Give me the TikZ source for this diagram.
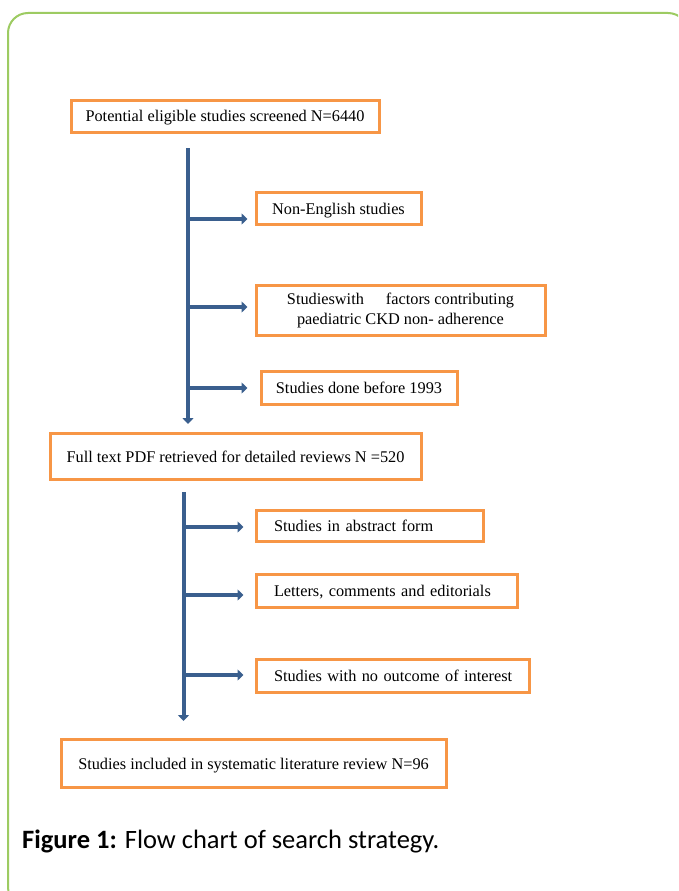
\documentclass[tikz,border=0pt]{standalone}
\usepackage{fontspec}
\setmainfont{Liberation Serif}
\newfontfamily\capfont{Carlito}
\usetikzlibrary{arrows.meta}
\definecolor{boxorange}{HTML}{F79646}
\definecolor{flowblue}{HTML}{3A5F8E}
\definecolor{framegreen}{HTML}{9DCB62}
\tikzset{
  boxframe/.style={draw=boxorange, line width=3pt, anchor=west, inner xsep=0pt, inner ysep=0pt, align=center, font=\fontsize{16.3}{20.5}\selectfont},
  flowbox/.style={boxframe, text height=11pt, text depth=0pt},
  sidebox/.style={flowbox, inner xsep=18pt, align=left},
  flowarrow/.style={draw=flowblue, line width=4pt, -{Triangle[length=6pt,width=11pt]}},
}
\begin{document}
\begin{tikzpicture}[x=1pt,y=-1pt]
\useasboundingbox (0,0) rectangle (678,891);
\clip (0,0) rectangle (678,891);
\draw[framegreen, line width=2pt, rounded corners=20pt] (8,13) rectangle (688,907);
%Boxes
\node[flowbox, minimum width=308pt, minimum height=32pt] (screened) at (69.5,116) {Potential eligible studies screened N=6440};
\node[flowbox, minimum width=165pt, minimum height=32pt] (nonenglish) at (254.5,208.5) {Non-English studies};
\node[boxframe, minimum width=289pt, minimum height=50pt] (factors) at (254.5,310.5) {Studieswith\hspace{22pt}factors contributing\\paediatric CKD non- adherence};
\node[flowbox, minimum width=196pt, minimum height=33pt] (before) at (259.5,388) {Studies done before 1993};
\node[flowbox, minimum width=371pt, minimum height=46pt] (fulltext) at (48.5,456.5) {Full text PDF retrieved for detailed reviews N =520};
\node[sidebox, text width=191pt, minimum height=31pt] (abstract) at (254.5,526) {\mbox{Studies in abstract form}};
\node[sidebox, text width=225pt, minimum height=33pt] (letters) at (254.5,591) {\mbox{Letters, comments and editorials}};
\node[sidebox, text width=237pt, minimum height=33pt] (nooutcome) at (254.5,676) {\mbox{Studies with no outcome of interest}};
\node[flowbox, minimum width=385pt, minimum height=48pt] (included) at (59.5,763.5) {Studies included in systematic literature review N=96};
%Arrows
\coordinate (top1) at (188,148);
\coordinate (br1) at (188,219);
\coordinate (br2) at (188,307);
\coordinate (br3) at (188,388);
\draw[flowarrow, shorten >=8pt] (top1) -- (top1 |- fulltext.north);
\draw[flowarrow, shorten >=7pt] (br1) -- (br1 -| nonenglish.west);
\draw[flowarrow, shorten >=7pt] (br2) -- (br2 -| factors.west);
\draw[flowarrow, shorten >=12pt] (br3) -- (br3 -| before.west);
\coordinate (top2) at (183.5,492);
\coordinate (br4) at (183.5,527);
\coordinate (br5) at (183.5,595);
\coordinate (br6) at (183.5,675);
\draw[flowarrow, shorten >=17pt] (top2) -- (top2 |- included.north);
\draw[flowarrow, shorten >=11pt] (br4) -- (br4 -| abstract.west);
\draw[flowarrow, shorten >=11pt] (br5) -- (br5 -| letters.west);
\draw[flowarrow, shorten >=11pt] (br6) -- (br6 -| nooutcome.west);
\node[anchor=base west, inner sep=0pt, font=\capfont\fontsize{26.5}{31}\selectfont] (caption) at (22,848) {\textbf{Figure 1:} Flow chart of search strategy.};
\end{tikzpicture}
\end{document}
